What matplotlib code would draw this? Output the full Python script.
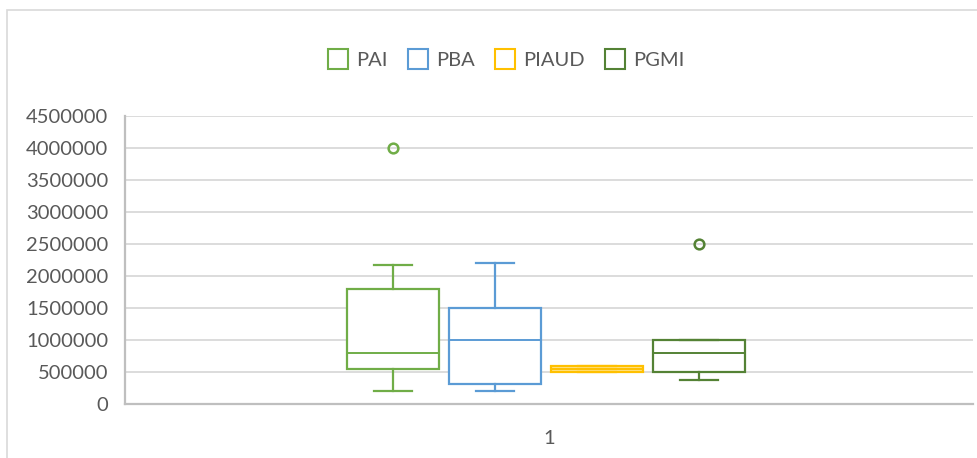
import matplotlib.pyplot as plt
from matplotlib.patches import Rectangle
from matplotlib.lines import Line2D

plt.rcParams['font.family'] = ['Lato', 'DejaVu Sans']

series = ['PAI', 'PBA', 'PIAUD', 'PGMI']
colors = ['#70AD47', '#5B9BD5', '#FFC000', '#548235']
whislo = [200000, 200000, 500000, 380000]
q1 = [550000, 320000, 500000, 500000]
med = [800000, 1000000, 550000, 800000]
q3 = [1800000, 1500000, 600000, 1000000]
whishi = [2170000, 2200000, 600000, 1000000]
fliers = [[4000000], [], [], [2500000]]
yticks = list(range(0, 4500001, 500000))

fig = plt.figure(figsize=(9.78, 4.58), dpi=100)
# chart frame (partly cut off in the screenshot)
fig.patches.append(Rectangle((7 / 978, -0.1), 1.1, (458 - 10) / 458 + 0.1,
                             transform=fig.transFigure, fill=False,
                             edgecolor='#D9D9D9', linewidth=1.2))

ax = fig.add_axes([125 / 978, 54 / 458, 848 / 978, 288 / 458])

positions = [0.8165, 0.9368, 1.057, 1.177]
for i, name in enumerate(series):
    stats = [{'whislo': whislo[i], 'q1': q1[i], 'med': med[i], 'q3': q3[i],
              'whishi': whishi[i], 'fliers': fliers[i]}]
    c = colors[i]
    face = '#FFE38A' if name == 'PIAUD' else 'white'
    ax.bxp(stats, positions=[positions[i]], widths=0.1085, patch_artist=True,
           showfliers=True, manage_ticks=False,
           boxprops=dict(facecolor=face, edgecolor=c, linewidth=1.6),
           medianprops=dict(color=c, linewidth=1.4),
           whiskerprops=dict(color=c, linewidth=1.6),
           capprops=dict(color=c, linewidth=1.6),
           capwidths=0.045,
           flierprops=dict(marker='o', markerfacecolor='none', markeredgecolor=c,
                           markersize=7, markeredgewidth=1.8), zorder=3)

ax.set_xlim(0.5, 1.5)
ax.set_ylim(0, 4500000)
ax.set_yticks(yticks)
ax.set_yticklabels([str(v) for v in yticks])
ax.set_xticks([1.0])
ax.set_xticklabels(['1'])
ax.yaxis.grid(True, color='#D9D9D9', linewidth=1.3, zorder=0)
ax.set_axisbelow(True)
for s in ['top', 'right']:
    ax.spines[s].set_visible(False)
for s in ['left', 'bottom']:
    ax.spines[s].set_color('#BFBFBF')
    ax.spines[s].set_linewidth(1.6)
ax.tick_params(axis='both', length=0, labelsize=14.5, colors='#595959', pad=12)
ax.tick_params(axis='x', pad=19)

handles = [Line2D([], [], marker='s', linestyle='none', markersize=14,
                  markerfacecolor='white', markeredgecolor=c, markeredgewidth=1.5)
           for c in colors]
fig.legend(handles, series, loc='center', bbox_to_anchor=(507 / 978, 1 - 60 / 458),
           ncol=4, frameon=False, fontsize=14.5, labelcolor='#595959',
           handlelength=0.8, handletextpad=0.5, columnspacing=1.1)

fig.savefig('out.png', dpi=100)
